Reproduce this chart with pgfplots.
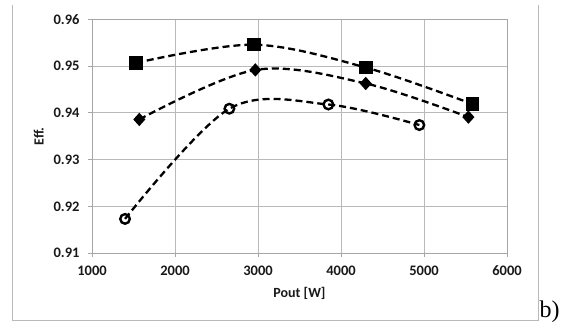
\documentclass[border=0pt]{standalone}
\usepackage{pgfplots}
\pgfplotsset{compat=1.18}
\usepackage{fontspec}
\setmainfont{Carlito}
\newfontfamily\timesfont{Liberation Serif}
\begin{document}
\begin{tikzpicture}[x=1pt,y=1pt]
\useasboundingbox (0,0) rectangle (568,324);
\draw[gray!55, line width=0.8pt] (12,319) -- (12,4) -- (538,4) -- (538,319);
\node[anchor=base west, inner sep=0pt, font=\timesfont\fontsize{24}{26}\selectfont] at (539.5,6.5) {b)};
\begin{axis}[
  at={(92pt,71pt)}, anchor=south west,
  scale only axis, width=415pt, height=233.5pt,
  xmin=1000, xmax=6000, ymin=0.91, ymax=0.96,
  xtick={1000,2000,3000,4000,5000,6000},
  ytick={0.91,0.92,0.93,0.94,0.95,0.96},
  grid=major,
  major grid style={gray!55, line width=0.8pt},
  axis line style={gray!70, line width=0.8pt},
  tick style={gray!70, line width=0.8pt},
  tick align=outside, tick pos=left,
  major tick length=4pt,
  x tick label style={/pgf/number format/.cd, set thousands separator={}, assume math mode=true},
  y tick label style={/pgf/number format/.cd, fixed, fixed zerofill, precision=2, assume math mode=true},
  every tick label/.append style={font=\fontsize{14.5}{16}\selectfont\bfseries, text=black!90},
  xticklabel shift=5pt,
  yticklabel shift=5pt,
  xlabel={Pout [W]},
  ylabel={Eff.},
  every axis label/.append style={font=\fontsize{14}{16}\selectfont\bfseries, text=black!90},
  xlabel style={at={(axis description cs:0.5,-0.171)}, anchor=center},
  ylabel style={at={(axis description cs:-0.128,0.5)}, anchor=center},
  clip=false,
]
\addplot[black, line width=2.3pt, dash pattern=on 7pt off 4pt, smooth, tension=0.55,
  mark=square*, mark size=5.5pt, mark options={solid}] coordinates {
  (1530,0.9507) (2952,0.9546) (4302,0.9497) (5583,0.9419)
};
\addplot[black, line width=2.3pt, dash pattern=on 7pt off 4pt, smooth, tension=0.55,
  mark=diamond*, mark size=5pt, mark options={solid, xscale=1.2}] coordinates {
  (1570,0.9386) (2968,0.9492) (4298,0.9463) (5535,0.9391)
};
\addplot[black, line width=2.3pt, dash pattern=on 7pt off 4pt, smooth, tension=0.55,
  mark=o, mark size=4.8pt, mark options={solid, line width=2.4pt, fill=white}] coordinates {
  (1398,0.9173) (2655,0.9409) (3848,0.9418) (4944,0.9374)
};
\end{axis}
\end{tikzpicture}
\end{document}
